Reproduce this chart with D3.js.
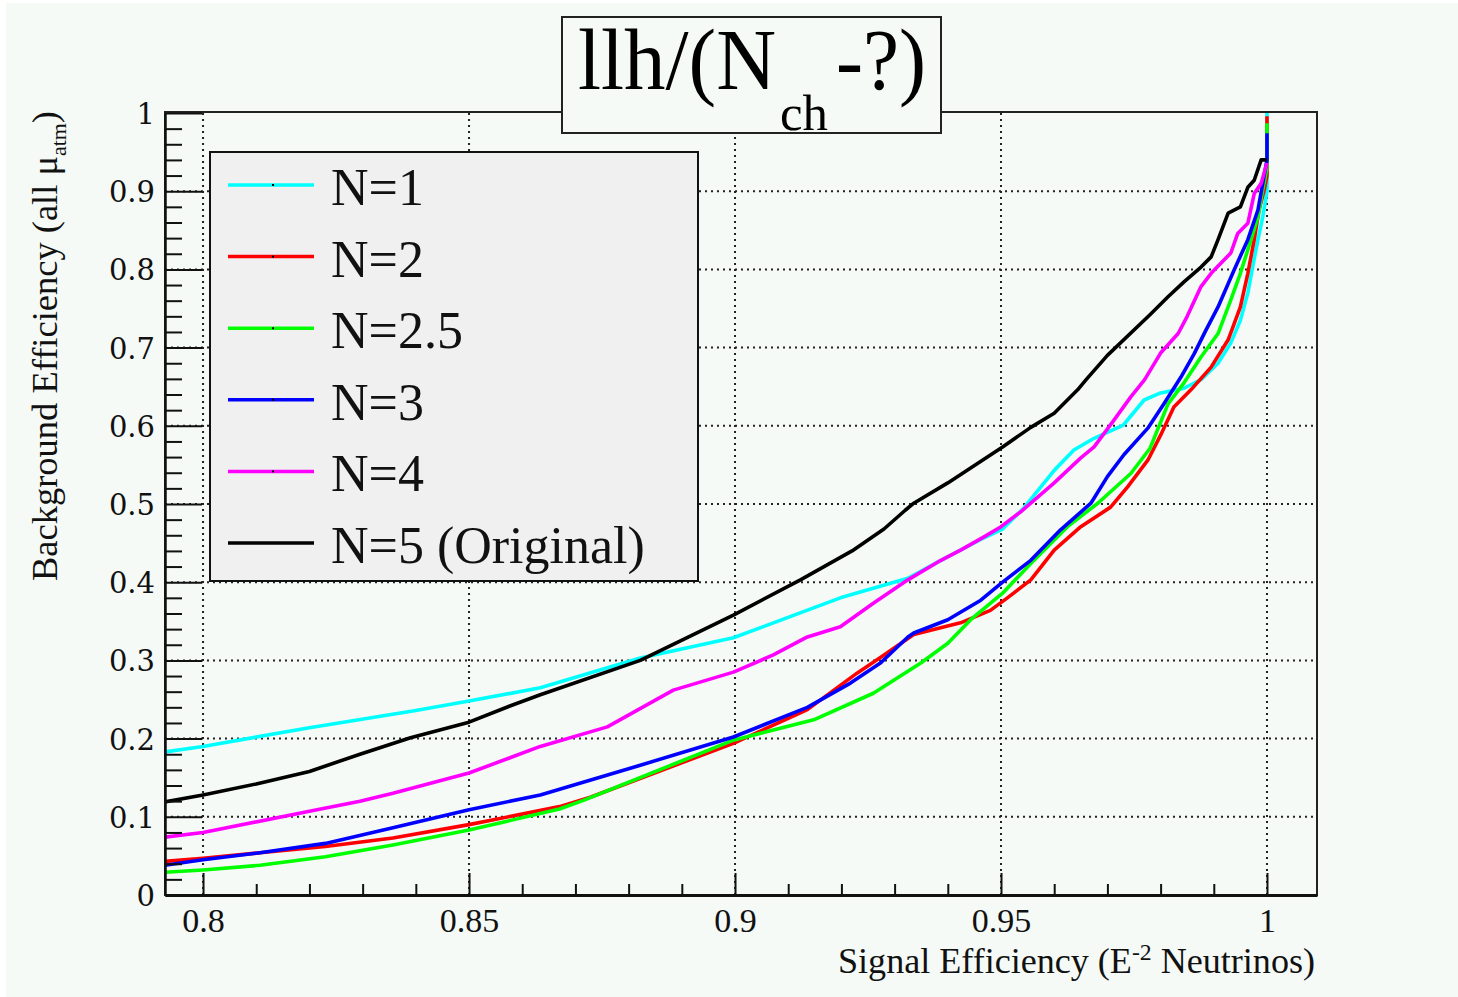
<!DOCTYPE html>
<html>
<head>
<meta charset="utf-8">
<script src="https://cdn.jsdelivr.net/npm/d3@7"></script>
<style>
  html, body { margin: 0; padding: 0; background: #ffffff; }
  svg { display: block; }
</style>
</head>
<body>
<svg id="chart" width="1458" height="997"></svg>
<script>
// Background-vs-signal efficiency curves for different N_ch offsets
const seriesNames = ["N=1", "N=2", "N=2.5", "N=3", "N=4", "N=5 (Original)"];
const seriesColors = ["#00ffff", "#ff0000", "#00ff00", "#0000ff", "#ff00ff", "#000000"];

// [signal efficiency, background efficiency]
const effN1 = [[0.7928,0.183],[0.80,0.190],[0.82,0.214],[0.84,0.236],[0.85,0.248],[0.8634,0.265],[0.8822,0.303],[0.8997,0.329],[0.9198,0.380],[0.9325,0.405],[0.9387,0.428],[0.946,0.454],[0.9503,0.468],[0.9543,0.495],[0.960,0.543],[0.9637,0.569],[0.9675,0.584],[0.973,0.601],[0.9769,0.633],[0.980,0.642],[0.9844,0.648],[0.9876,0.659],[0.9908,0.680],[0.9932,0.706],[0.995,0.735],[0.9964,0.770],[0.9973,0.803],[0.9983,0.838],[0.9992,0.867],[1.0,0.90],[1.0,1.0]];
const effN2 = [[0.7928,0.043],[0.80,0.047],[0.8107,0.054],[0.823,0.062],[0.8357,0.073],[0.85,0.090],[0.867,0.113],[0.8728,0.125],[0.8997,0.194],[0.9136,0.237],[0.923,0.284],[0.9274,0.304],[0.9325,0.328],[0.9336,0.333],[0.9424,0.348],[0.948,0.364],[0.9512,0.380],[0.9556,0.403],[0.960,0.441],[0.965,0.471],[0.9706,0.496],[0.9738,0.522],[0.9776,0.556],[0.980,0.588],[0.9825,0.624],[0.9857,0.646],[0.9895,0.675],[0.9927,0.710],[0.995,0.752],[0.9964,0.795],[0.9976,0.838],[0.9985,0.876],[0.9995,0.902],[1.0,0.92],[1.0,0.996]];
const effN25 = [[0.7928,0.029],[0.80,0.032],[0.8107,0.038],[0.823,0.049],[0.8357,0.064],[0.85,0.083],[0.867,0.110],[0.8715,0.121],[0.8997,0.198],[0.9148,0.224],[0.926,0.258],[0.935,0.297],[0.940,0.322],[0.9443,0.352],[0.9503,0.386],[0.9556,0.424],[0.9625,0.471],[0.9682,0.501],[0.9744,0.539],[0.978,0.571],[0.9814,0.628],[0.9844,0.655],[0.9876,0.688],[0.9908,0.718],[0.9932,0.761],[0.995,0.795],[0.997,0.838],[0.9983,0.867],[0.9992,0.902],[1.0,0.93],[1.0,0.987]];
const effN3 = [[0.7928,0.038],[0.80,0.045],[0.8107,0.054],[0.823,0.066],[0.8357,0.086],[0.85,0.109],[0.8634,0.128],[0.8822,0.166],[0.8997,0.202],[0.9136,0.240],[0.9217,0.271],[0.9274,0.297],[0.9325,0.330],[0.9336,0.335],[0.940,0.352],[0.9462,0.377],[0.9503,0.400],[0.9556,0.428],[0.9612,0.467],[0.9669,0.501],[0.970,0.535],[0.9731,0.563],[0.9776,0.597],[0.9806,0.628],[0.9838,0.662],[0.9863,0.692],[0.9885,0.722],[0.9908,0.752],[0.9938,0.799],[0.9964,0.838],[0.9983,0.876],[0.9992,0.910],[1.0,0.94],[1.0,0.974]];
const effN4 = [[0.7928,0.074],[0.80,0.080],[0.82,0.107],[0.8295,0.120],[0.8357,0.130],[0.85,0.156],[0.8634,0.190],[0.876,0.215],[0.8884,0.262],[0.8997,0.285],[0.9072,0.307],[0.9136,0.330],[0.9198,0.343],[0.926,0.373],[0.9325,0.403],[0.9387,0.428],[0.9424,0.441],[0.9468,0.458],[0.950,0.471],[0.9537,0.490],[0.960,0.527],[0.965,0.559],[0.9675,0.573],[0.9712,0.607],[0.9744,0.637],[0.977,0.659],[0.980,0.693],[0.9833,0.718],[0.985,0.740],[0.9876,0.778],[0.9895,0.795],[0.9932,0.821],[0.9945,0.846],[0.9964,0.859],[0.9976,0.897],[0.9989,0.910],[1.0,0.936]];
const effN5 = [[0.7928,0.119],[0.80,0.128],[0.81,0.142],[0.82,0.158],[0.8295,0.180],[0.839,0.201],[0.85,0.221],[0.8578,0.242],[0.8634,0.256],[0.8822,0.300],[0.8997,0.358],[0.9123,0.403],[0.922,0.440],[0.928,0.468],[0.932,0.492],[0.9336,0.501],[0.940,0.527],[0.9503,0.573],[0.9556,0.598],[0.960,0.616],[0.9644,0.646],[0.966,0.659],[0.970,0.690],[0.978,0.742],[0.9814,0.765],[0.9844,0.784],[0.9876,0.803],[0.9895,0.816],[0.9908,0.838],[0.9927,0.872],[0.995,0.880],[0.9964,0.905],[0.9976,0.914],[0.9989,0.940],[1.0,0.940]];
const seriesData = [effN1, effN2, effN25, effN3, effN4, effN5];

const xTickValues = [0.8, 0.85, 0.9, 0.95, 1.0];
const xTickLabels = ["0.8", "0.85", "0.9", "0.95", "1"];
const yTickValues = [0, 0.1, 0.2, 0.3, 0.4, 0.5, 0.6, 0.7, 0.8, 0.9, 1.0];
const yTickLabels = ["0", "0.1", "0.2", "0.3", "0.4", "0.5", "0.6", "0.7", "0.8", "0.9", "1"];

const serif = "'Liberation Serif', 'Times New Roman', serif";
const wideSerif = "'DejaVu Serif', serif";

const svg = d3.select("#chart");
const frame = { left: 165, right: 1317, top: 113, bottom: 895 };

// canvas fill
svg.append("rect").attr("x", 6).attr("y", 3).attr("width", 1452).attr("height", 994).attr("fill", "#f5faf7");

const x = d3.scaleLinear().domain([0.79285, 1.0094]).range([frame.left, frame.right]);
const y = d3.scaleLinear().domain([0, 1]).range([frame.bottom, frame.top]);

// dotted grid at major ticks
const grid = svg.append("g").attr("stroke", "#222").attr("stroke-width", 2).attr("stroke-dasharray", "2,4");
grid.selectAll("line.gx").data(xTickValues).join("line")
  .attr("x1", d => x(d)).attr("x2", d => x(d)).attr("y1", frame.top).attr("y2", frame.bottom);
grid.selectAll("line.gy").data(yTickValues.filter(v => v > 0 && v < 1)).join("line")
  .attr("y1", d => y(d)).attr("y2", d => y(d)).attr("x1", frame.left).attr("x2", frame.right);

// curves
svg.append("clipPath").attr("id", "plotClip").append("rect")
  .attr("x", frame.left).attr("y", frame.top - 2).attr("width", frame.right - frame.left).attr("height", frame.bottom - frame.top + 2);
const line = d3.line().x(d => x(d[0])).y(d => y(d[1]));
svg.append("g").attr("clip-path", "url(#plotClip)")
  .selectAll("path").data(seriesData).join("path")
  .attr("d", line).attr("fill", "none")
  .attr("stroke", (d, i) => seriesColors[i]).attr("stroke-width", 3.6)
  .attr("stroke-linejoin", "round");

// frame
svg.append("rect").attr("x", frame.left).attr("y", frame.top - 1).attr("width", frame.right - frame.left)
  .attr("height", frame.bottom - frame.top + 1).attr("fill", "none").attr("stroke", "#222").attr("stroke-width", 2);

// x axis: ticks pointing up, labels below
const xAxis = d3.axisBottom(x).tickValues(d3.range(0, 21).map(i => +(0.8 + i * 0.01).toFixed(2)))
  .tickSize(0).tickFormat("");
const gx = svg.append("g").attr("transform", `translate(0,${frame.bottom})`).call(xAxis);
gx.select(".domain").attr("stroke", "#111").attr("stroke-width", 3);
gx.selectAll(".tick line").attr("stroke", "#111").attr("stroke-width", 2)
  .attr("y2", d => (Math.round(d * 100) % 5 === 0) ? -22 : -11);
gx.selectAll(".tick").filter(d => xTickValues.some(v => Math.abs(v - d) < 1e-9))
  .append("text").attr("y", 37).attr("fill", "#111").attr("text-anchor", "middle")
  .style("font-family", serif).style("font-size", "34px")
  .text(d => xTickLabels[xTickValues.findIndex(v => Math.abs(v - d) < 1e-9)]);

// y axis: ticks pointing right, labels left
const yAxis = d3.axisLeft(y).tickValues(d3.range(0, 51).map(i => +(i * 0.02).toFixed(2)))
  .tickSize(0).tickFormat("");
const gy = svg.append("g").attr("transform", `translate(${frame.left},0)`).call(yAxis);
gy.select(".domain").attr("stroke", "#111").attr("stroke-width", 2.5);
gy.selectAll(".tick line").attr("stroke", "#111").attr("stroke-width", 2)
  .attr("x2", d => (Math.round(d * 100) % 10 === 0) ? 37 : 17);
gy.selectAll(".tick").filter(d => yTickValues.some(v => Math.abs(v - d) < 1e-9))
  .append("text").attr("x", -10).attr("dy", "0.36em").attr("fill", "#111").attr("text-anchor", "end")
  .style("font-family", wideSerif).style("font-size", "29px")
  .text(d => yTickLabels[yTickValues.findIndex(v => Math.abs(v - d) < 1e-9)]);

// axis titles
const xTitle = svg.append("text").attr("x", 1315).attr("y", 973).attr("text-anchor", "end")
  .attr("textLength", 477).attr("lengthAdjust", "spacingAndGlyphs")
  .style("font-family", serif).style("font-size", "35px").attr("fill", "#111");
xTitle.append("tspan").text("Signal Efficiency (E");
xTitle.append("tspan").attr("dy", -13).style("font-size", "23px").text("-2");
xTitle.append("tspan").attr("dy", 13).text(" Neutrinos)");

const yTitle = svg.append("text").attr("transform", "translate(57,111) rotate(-90)").attr("text-anchor", "end")
  .attr("textLength", 470).attr("lengthAdjust", "spacingAndGlyphs")
  .style("font-family", serif).style("font-size", "35px").attr("fill", "#111");
yTitle.append("tspan").text("Background Efficiency (all \u03bc");
yTitle.append("tspan").attr("dy", 9).style("font-size", "21px").text("atm");
yTitle.append("tspan").attr("dy", -9).text(")");

// title box
svg.append("rect").attr("x", 562).attr("y", 17).attr("width", 379).attr("height", 116)
  .attr("fill", "#f5faf7").attr("stroke", "#222").attr("stroke-width", 2);
const titleParts = [
  { t: "llh/(N", x: 578, y: 89, size: 86, w: 198 },
  { t: "ch", x: 780, y: 130, size: 50, w: 48 },
  { t: "-?)", x: 836, y: 89, size: 86, w: 90 }
];
svg.append("g").selectAll("text").data(titleParts).join("text")
  .attr("x", d => d.x).attr("y", d => d.y).attr("textLength", d => d.w).attr("lengthAdjust", "spacingAndGlyphs")
  .style("font-family", serif).style("font-size", d => d.size + "px").attr("fill", "#000").text(d => d.t);

// legend
const legend = svg.append("g");
legend.append("rect").attr("x", 210).attr("y", 152).attr("width", 488).attr("height", 429)
  .attr("fill", "#f0f0f0").attr("stroke", "#111").attr("stroke-width", 2);
const rowY = d3.scaleLinear().domain([0, 5]).range([185, 543]);
const rows = legend.selectAll("g.row").data(seriesNames).join("g").attr("transform", (d, i) => `translate(0,${rowY(i)})`);
rows.append("line").attr("x1", 228).attr("x2", 314).attr("y1", 0).attr("y2", 0)
  .attr("stroke", (d, i) => seriesColors[i]).attr("stroke-width", 3.5);
rows.append("rect").attr("x", 272).attr("y", -1).attr("width", 2).attr("height", 2).attr("fill", "#000");
rows.append("text").attr("x", 331).attr("y", 20).style("font-family", serif).style("font-size", "52px")
  .attr("fill", "#111").text(d => d);
</script>
</body>
</html>
